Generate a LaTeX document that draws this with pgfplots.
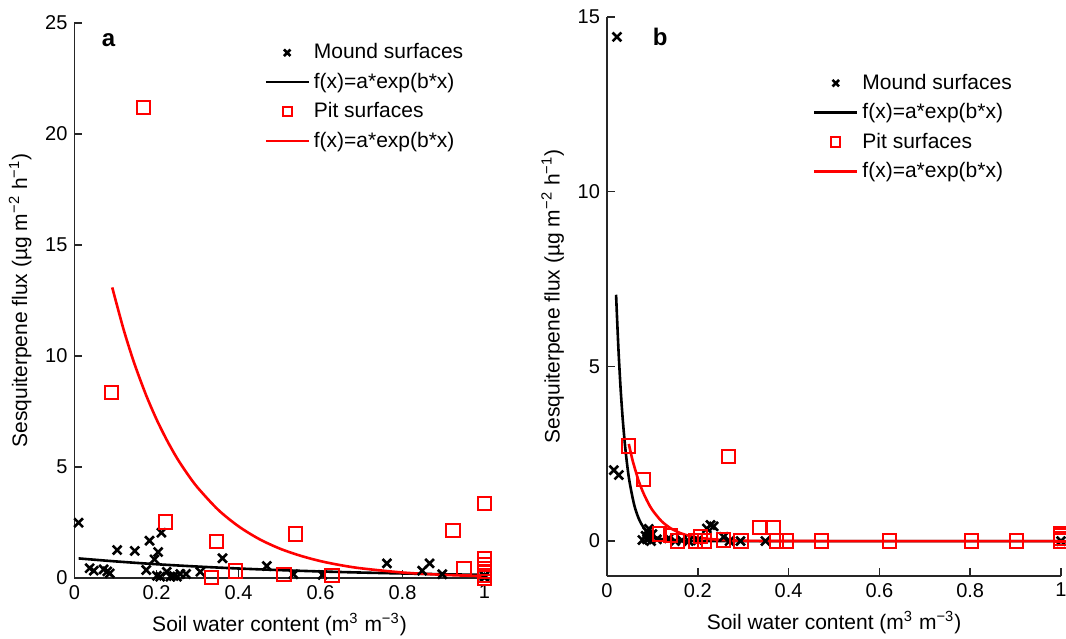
\documentclass[border=0pt]{standalone}
\usepackage{fontspec}
\setmainfont{Liberation Sans}
\usepackage{pgfplots}
\pgfplotsset{compat=1.18}
\definecolor{axgray}{rgb}{0.15,0.15,0.15}

\pgfplotsset{
  matlab/.style={
    scale only axis,
    axis lines*=left,
    axis line style={axgray, line width=0.8pt},
    tick style={axgray, line width=0.8pt},
    major tick length=4pt,
    tick align=inside,
    ticklabel style={font=\fontsize{10}{12}\selectfont},
    label style={font=\fontsize{10.5}{12}\selectfont},
    /pgf/number format/assume math mode=true,
    clip=false,
    legend style={draw=none, fill=none, font=\fontsize{10.5}{12}\selectfont,
      row sep=1.6pt, anchor=north west},
    legend cell align=left,
    legend image code/.code={\draw[#1] (0cm,0cm) -- (0.75cm,0cm);},
    xmin=0, xmax=1, xtick={0,0.2,0.4,0.6,0.8,1},
    xlabel={Soil water content (m\textsuperscript{3} m\textsuperscript{−3})},
    ylabel={Sesquiterpene flux (µg m\textsuperscript{−2} h\textsuperscript{−1})},
  },
  ptlegend/.style={legend image code/.code={
    \draw[mark repeat=2,mark phase=2,##1,mark size=2.3pt]
      plot coordinates {(0cm,0cm) (0.375cm,0cm) (0.75cm,0cm)};}},
  mound/.style={only marks, mark=x, mark size=3.1pt, color=black,
    mark options={line width=1.3pt}, ptlegend},
  pit/.style={only marks, mark=square, mark size=3.3pt, color=red,
    mark options={line width=1pt}, ptlegend},
  fitk/.style={color=black, line width=1.3pt, no marks, smooth},
  fitr/.style={color=red, line width=1.3pt, no marks, smooth},
}

\begin{document}
\begin{tikzpicture}
\path[use as bounding box] (-37.25pt,-30pt) rectangle (495.75pt,289pt);

% panel a
\begin{axis}[matlab,
    at={(0pt,0pt)}, anchor=south west,
    width=205pt, height=277.5pt,
    ymin=0, ymax=25, ytick={0,5,10,15,20,25},
    legend style={at={(0.448,0.978)}},
]
\addplot[mound] coordinates {
  (0.01,2.49) (0.037,0.44) (0.047,0.33) (0.071,0.39) (0.08,0.3) (0.086,0.21)
  (0.104,1.26) (0.147,1.22) (0.175,0.36) (0.183,1.68) (0.195,0.84) (0.204,1.17)
  (0.212,2.04) (0.201,0.1) (0.209,0.06) (0.225,0.28) (0.234,0.06) (0.242,0.09)
  (0.25,0.06) (0.258,0.18) (0.272,0.18) (0.307,0.28) (0.361,0.89) (0.469,0.54)
  (0.534,0.17) (0.605,0.14) (0.762,0.66) (0.848,0.33) (0.866,0.66) (0.897,0.17)
  (1.0,0.02) (1.0,0.1)
};
\addlegendentry{Mound surfaces}
\addplot[fitk] coordinates {
  (0.01,0.883) (0.1,0.748) (0.2,0.621) (0.3,0.516) (0.4,0.428) (0.5,0.356)
  (0.6,0.295) (0.7,0.245) (0.8,0.204) (0.9,0.169) (1.0,0.140)
};
\addlegendentry{f(x)=a*exp(b*x)}
\addplot[pit] coordinates {
  (0.168,21.2) (0.09,8.36) (0.221,2.52) (0.347,1.65) (0.335,0.03) (0.393,0.32)
  (0.54,1.98) (0.511,0.14) (0.628,0.12) (0.923,2.13) (0.95,0.44) (1.0,3.37)
  (1.0,0.86) (1.0,0.6) (1.0,0.44) (1.0,0.3) (1.0,0.1) (1.0,0.0)
};
\addlegendentry{Pit surfaces}
\addplot[fitr] coordinates {
  (0.092,13.09) (0.105,12.19) (0.12,11.18) (0.135,10.28) (0.15,9.45)
  (0.175,8.22) (0.2,7.15) (0.225,6.22) (0.25,5.40) (0.275,4.70) (0.3,4.08)
  (0.35,3.08) (0.4,2.33) (0.45,1.76) (0.5,1.33) (0.55,1.01) (0.6,0.76)
  (0.65,0.575) (0.7,0.434) (0.8,0.248) (0.9,0.142) (1.0,0.081)
};
\addlegendentry{f(x)=a*exp(b*x)}
\node[font=\bfseries\fontsize{12}{14}\selectfont] at (rel axis cs:0.083,0.969) {a};
\end{axis}

% panel b
\begin{axis}[matlab,
    at={(266.25pt,1pt)}, anchor=south west,
    width=227pt, height=279.5pt,
    ymin=-1, ymax=15, ytick={0,5,10,15},
    legend style={at={(0.44,0.913)}},
]
\addplot[mound] coordinates {
  (0.022,14.43) (0.015,2.03) (0.026,1.89) (0.078,0.03) (0.085,0.15) (0.089,0.27)
  (0.092,0.35) (0.095,0.1) (0.1,0.2) (0.097,0.0) (0.088,0.05) (0.11,0.05)
  (0.136,0.08) (0.15,0.0) (0.165,0.02) (0.18,0.0) (0.2,0.02) (0.22,0.36)
  (0.228,0.46) (0.235,0.42) (0.257,0.12) (0.27,0.0) (0.294,0.0) (0.349,0.0)
  (1.0,0.0)
};
\addlegendentry{Mound surfaces}
\addplot[fitk] coordinates {
  (0.02,7.05) (0.025,5.55) (0.03,4.36) (0.035,3.43) (0.04,2.70) (0.045,2.12)
  (0.05,1.67) (0.06,1.03) (0.07,0.64) (0.08,0.40) (0.09,0.245) (0.1,0.151)
  (0.12,0.058) (0.15,0.014) (0.2,0.001) (0.3,0) (1.0,0)
};
\addlegendentry{f(x)=a*exp(b*x)}
\addplot[pit] coordinates {
  (0.048,2.72) (0.081,1.76) (0.268,2.41) (0.116,0.2) (0.14,0.15) (0.156,0.0)
  (0.206,0.14) (0.195,0.0) (0.215,0.0) (0.257,0.03) (0.295,0.0) (0.336,0.39)
  (0.367,0.39) (0.374,0.0) (0.396,0.0) (0.473,0.0) (0.623,0.0) (0.803,0.0)
  (0.902,0.0) (1.0,0.0) (1.0,0.08) (1.0,0.15) (1.0,0.2)
};
\addlegendentry{Pit surfaces}
\addplot[fitr] coordinates {
  (0.048,2.78) (0.055,2.38) (0.06,2.14) (0.07,1.71) (0.08,1.38) (0.09,1.11)
  (0.1,0.886) (0.12,0.571) (0.14,0.368) (0.16,0.237) (0.18,0.153) (0.2,0.098)
  (0.25,0.033) (0.3,0.011) (0.4,0.001) (1.0,0)
};
\addlegendentry{f(x)=a*exp(b*x)}
\node[font=\bfseries\fontsize{12}{14}\selectfont] at (rel axis cs:0.117,0.964) {b};
\end{axis}
\end{tikzpicture}
\end{document}
